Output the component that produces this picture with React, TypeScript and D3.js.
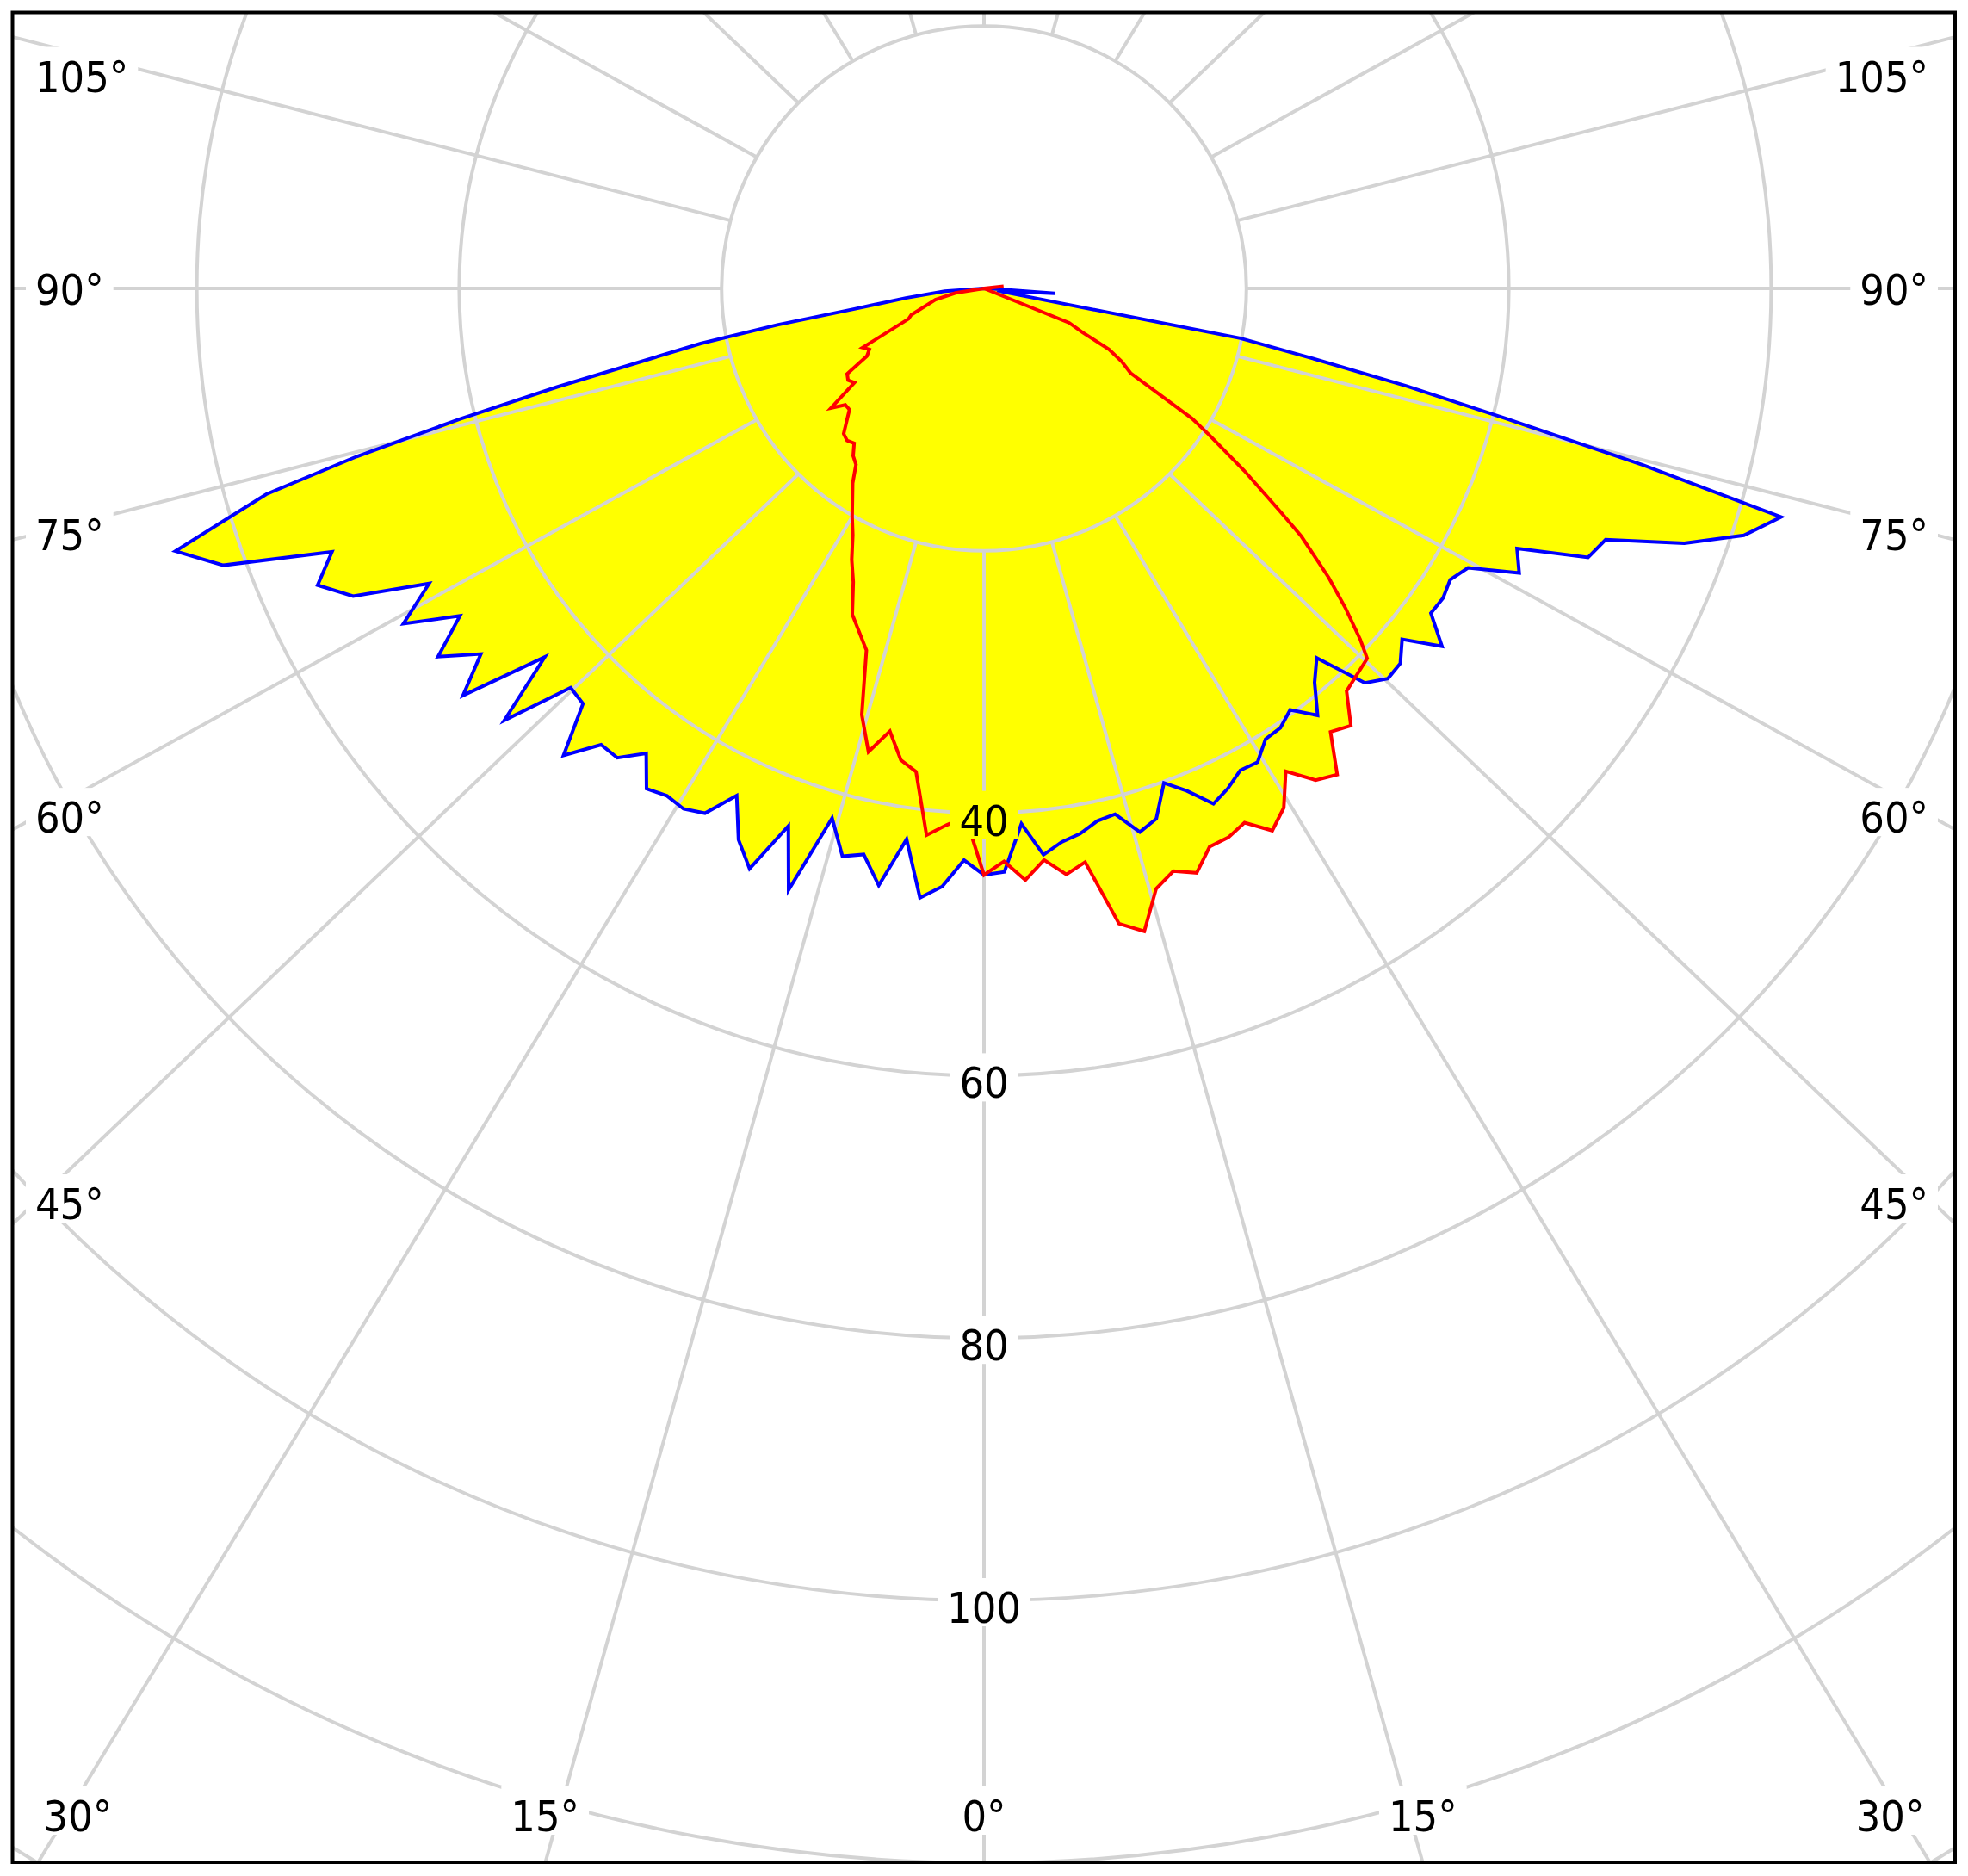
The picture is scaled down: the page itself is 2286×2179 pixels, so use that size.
import React, { useRef, useEffect } from "react";
import * as d3 from "d3";

// polar intensity diagram: blue = C0/C180 plane (filled), red = C90/C270 plane

// C180 (left half, blue)
const c180Angles = [0, 2, 4, 6, 8, 10, 12, 14, 16, 18, 20, 22, 24, 26, 28, 30, 32, 34, 36, 38, 40, 42, 44, 46, 48, 50, 52, 54, 56, 58, 60, 62, 64, 66, 68, 70, 72, 73, 74, 75, 76, 77, 78, 79, 80, 81, 83, 86, 90];
const c180Values = [44.7, 43.6, 45.7, 46.7, 42.4, 46.2, 44.1, 44.6, 42.0, 48.2, 43.6, 47.7, 46.0, 43.0, 45.3, 45.8, 45.6, 46.0, 43.8, 45.4, 45.4, 47.9, 44.0, 43.8, 49.2, 43.7, 50.4, 47.4, 50.2, 47.1, 51.1, 47.9, 53.5, 55.6, 53.6, 61.7, 64.8, 60.6, 56.9, 49.5, 41.2, 33.4, 26.5, 22.0, 16.0, 10.0, 6.0, 3.0, 0];

// C0 (right half, blue)
const c0Angles = [0, 2, 4, 6, 8, 10, 12, 14, 16, 18, 20, 22, 24, 26, 28, 30, 32, 34, 36, 38, 40, 42, 44, 46, 48, 50, 52, 54, 56, 58, 60, 62, 64, 66, 68, 70, 72, 74, 75, 76, 77, 78, 79, 80, 86, 88, 90];
const c0Values = [44.7, 44.5, 40.9, 43.4, 42.6, 42.2, 41.5, 41.3, 43.1, 42.5, 40.1, 41.3, 43.0, 42.4, 41.6, 41.7, 40.5, 40.4, 39.7, 41.3, 39.2, 37.9, 41.8, 42.8, 42.7, 41.6, 44.3, 42.1, 42.2, 41.9, 42.6, 46.2, 45.2, 50.4, 51.1, 56.8, 60.9, 63.2, 52.0, 41.0, 33.0, 25.5, 19.9, 1.0, 5.4, 0.5, 0];

// C270 (left half, red)
const c270Angles = [0, 2, 4, 6, 8, 10, 12, 14, 16, 18, 22, 24, 26, 28, 30, 34, 36, 38, 40, 42, 44, 48, 50, 52, 54, 56, 58, 60, 62, 64, 68, 70, 77, 81, 90];
const c270Values = [44.7, 40.3, 41.0, 41.9, 37.2, 36.5, 34.5, 36.4, 33.8, 29.0, 26.8, 24.5, 23.0, 21.3, 20.1, 17.9, 16.6, 16.2, 15.4, 15.6, 15.4, 13.8, 13.8, 14.8, 12.2, 12.5, 12.3, 10.3, 9.9, 10.3, 6.2, 5.9, 3.8, 2.2, 0];

// C90 (right half, red)
const c90Angles = [0, 2, 4, 6, 8, 10, 12, 14, 16, 18, 20, 22, 24, 26, 28, 30, 32, 34, 36, 38, 40, 42, 46, 47, 48.5, 50, 52, 53, 55, 57, 58, 60, 62, 64, 66, 68, 90, 96];
const c90Values = [44.7, 43.7, 45.2, 43.8, 45.1, 44.4, 49.5, 50.5, 47.6, 46.7, 47.4, 45.9, 45.8, 45.3, 46.8, 45.7, 43.4, 45.2, 45.8, 42.9, 43.5, 41.3, 40.6, 39.2, 36.8, 34.3, 30.7, 28.3, 24.2, 20.4, 18.7, 12.9, 11.9, 10.6, 8.2, 7.0, 0, 1.5];

const gridCircles = [20, 40, 60, 80, 100, 120, 140];
const radialLabels = [40, 60, 80, 100];
const spokeAngles = [0, 15, 30, 45, 60, 75, 90, 105, 120, 135, 150, 165, 180];
const labelAngles = [0, 15, 30, 45, 60, 75, 90, 105];

const W = 2286, H = 2179;
const cx = 1143, cy = 335;
const frame = { x0: 14.5, y0: 14.5, x1: 2271, y1: 2163 };
const FS = 50;
const FONT = "'DejaVu Sans Condensed', 'DejaVu Sans', sans-serif";
const SPOKE_Y = 0.96; // outer spoke ends are squeezed vertically in the original

const rad = (deg: number) => (deg * Math.PI) / 180;

// join left half (90 -> 0) and right half (0 -> 90) into one radial path
const plane = (la: number[], lv: number[], ra: number[], rv: number[]) => {
  const pts: [number, number][] = [];
  for (let i = la.length - 1; i >= 0; i--) pts.push([Math.PI + rad(la[i]), lv[i]]);
  for (let i = 1; i < ra.length; i++) pts.push([Math.PI - rad(ra[i]), rv[i]]);
  return pts;
};

export default function App() {
  const ref = useRef<SVGSVGElement>(null);

  useEffect(() => {
    const svg = d3.select(ref.current);
    svg.selectAll("*").remove();

    const r = d3.scaleLinear().domain([0, 20]).range([0, 304.8]);
    const defs = svg.append("defs");
    defs
      .append("clipPath")
      .attr("id", "frameClip")
      .append("rect")
      .attr("x", frame.x0)
      .attr("y", frame.y0)
      .attr("width", frame.x1 - frame.x0)
      .attr("height", frame.y1 - frame.y0);
    const mask = defs.append("mask").attr("id", "lblMask").attr("maskUnits", "userSpaceOnUse")
      .attr("x", 0).attr("y", 0).attr("width", W).attr("height", H);
    mask.append("rect").attr("width", W).attr("height", H).attr("fill", "white");

    svg.append("rect").attr("width", W).attr("height", H).attr("fill", "white");

    const root = svg.append("g").attr("clip-path", "url(#frameClip)");
    const plot = root.append("g").attr("transform", `translate(${cx},${cy})`);

    const line = d3
      .lineRadial<[number, number]>()
      .angle((d) => d[0])
      .radius((d) => r(d[1]));

    const bluePts = plane(c180Angles, c180Values, c0Angles, c0Values);
    const redPts = plane(c270Angles, c270Values, c90Angles, c90Values);

    // yellow fill for both planes
    [bluePts, redPts].forEach((pts) =>
      plot.append("path").attr("d", line(pts) + "Z").attr("fill", "#ffff00").attr("stroke", "none")
    );

    // grid
    const grid = root.append("g").attr("mask", "url(#lblMask)")
      .append("g").attr("transform", `translate(${cx},${cy})`)
      .attr("fill", "none").attr("stroke", "#d3d3d3").attr("stroke-width", 4);
    grid.selectAll("circle.ring").data(gridCircles).join("circle")
      .attr("r", (d) => r(d));
    const spokes: number[] = [];
    spokeAngles.forEach((a) => {
      spokes.push(a);
      if (a !== 0 && a !== 180) spokes.push(-a);
    });
    grid.selectAll("line.spoke").data(spokes).join("line")
      .attr("x1", (a) => r(20) * Math.sin(rad(a)))
      .attr("y1", (a) => r(20) * Math.cos(rad(a)))
      .attr("x2", (a) => r(160) * Math.sin(rad(a)))
      .attr("y2", (a) => r(160) * Math.cos(rad(a)) * SPOKE_Y);

    // curves
    const curves = root.append("g").attr("mask", "url(#lblMask)")
      .append("g").attr("transform", `translate(${cx},${cy})`)
      .attr("fill", "none").attr("stroke-width", 4).attr("stroke-linejoin", "miter");
    curves.append("path").attr("d", line(bluePts)).attr("stroke", "#0000ff");
    curves.append("path").attr("d", line(redPts)).attr("stroke", "#ff0000");

    // labels
    const labels = svg.append("g").attr("font-family", FONT).attr("font-size", FS)
      .attr("font-stretch", "condensed").attr("fill", "#000");
    type Lbl = { text: string; x: number; y: number; anchor: string };
    const lbls: Lbl[] = [];
    radialLabels.forEach((v) =>
      lbls.push({ text: String(v), x: cx, y: cy + r(v) + 26, anchor: "middle" })
    );
    labelAngles.forEach((g) => {
      [-1, 1].forEach((side) => {
        if (g === 0 && side < 0) return;
        const s = Math.sin(rad(g)), c = Math.cos(rad(g));
        const tx = s > 1e-9 ? (side < 0 ? cx - frame.x0 : frame.x1 - cx) / s : Infinity;
        const ty = c > 1e-9 ? (frame.y1 - cy) / c : Infinity;
        if (ty < tx) {
          const base = frame.y1 - 36;
          const top = base - 38;
          const off = (top - cy) * Math.tan(rad(g));
          lbls.push({
            text: `${g}°`,
            x: g === 0 ? cx : cx + side * off,
            y: base,
            anchor: g === 0 ? "middle" : side < 0 ? "end" : "start",
          });
        } else {
          const yc = Math.max(cy + (1062 * c) / s, frame.y0 + 73);
          lbls.push({
            text: `${g}°`,
            x: side < 0 ? frame.x0 + 26.5 : frame.x1 - 31,
            y: yc + 19,
            anchor: side < 0 ? "start" : "end",
          });
        }
      });
    });
    const texts = labels.selectAll("text").data(lbls).join("text")
      .attr("x", (d) => d.x).attr("y", (d) => d.y)
      .attr("text-anchor", (d) => d.anchor).text((d) => d.text);

    texts.each(function (d) {
      const b = (this as SVGTextElement).getBBox();
      mask.append("rect")
        .attr("x", b.x - 11).attr("y", d.y - FS - 2)
        .attr("width", b.width + 22).attr("height", FS + 6)
        .attr("fill", "black");
    });

    // frame
    svg.append("rect")
      .attr("x", frame.x0).attr("y", frame.y0)
      .attr("width", frame.x1 - frame.x0).attr("height", frame.y1 - frame.y0)
      .attr("fill", "none").attr("stroke", "#000").attr("stroke-width", 4);
  }, []);

  return (
    <svg
      ref={ref}
      width={W}
      height={H}
      style={{ position: "absolute", left: 0, top: 0, display: "block" }}
    />
  );
}
